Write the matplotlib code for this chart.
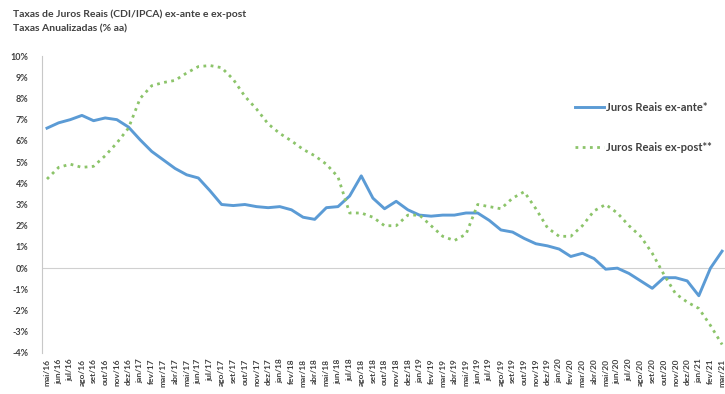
#!/usr/bin/env python3
"""
Juros reais ex-ante e ex-post (CDI/IPCA), mensal
"""

import numpy as np
import matplotlib
matplotlib.use('Agg')
import matplotlib.pyplot as plt

plt.rcParams['font.family'] = ['Lato', 'DejaVu Sans']

meses = ['jan', 'fev', 'mar', 'abr', 'mai', 'jun', 'jul', 'ago', 'set', 'out', 'nov', 'dez']
labels = []
for ano in range(16, 22):
    for m in meses:
        labels.append('{}/{}'.format(m, ano))
labels = labels[4:4 + 59]   # mai/16 .. mar/21

ex_ante = [6.6, 6.85, 7.0, 7.2, 6.95, 7.08, 7.0, 6.65, 6.05, 5.5,
           5.1, 4.7, 4.4, 4.25, 3.65, 3.0, 2.95, 3.0, 2.9, 2.85,
           2.9, 2.75, 2.4, 2.3, 2.85, 2.9, 3.4, 4.35, 3.3, 2.8,
           3.15, 2.75, 2.5, 2.45, 2.5, 2.5, 2.6, 2.6, 2.25, 1.8,
           1.7, 1.4, 1.15, 1.05, 0.9, 0.55, 0.7, 0.45, -0.05, 0.0,
           -0.25, -0.6, -0.95, -0.45, -0.45, -0.6, -1.3, 0.0, 0.8]

ex_post = [4.2, 4.75, 4.9, 4.75, 4.8, 5.3, 5.9, 6.6, 8.0, 8.6,
           8.75, 8.85, 9.2, 9.5, 9.55, 9.45, 8.9, 8.1, 7.5, 6.8,
           6.35, 6.0, 5.6, 5.3, 4.9, 4.3, 2.6, 2.6, 2.4, 2.0,
           2.0, 2.5, 2.5, 2.0, 1.5, 1.3, 1.6, 3.0, 2.9, 2.8,
           3.3, 3.6, 2.8, 1.9, 1.5, 1.5, 2.0, 2.7, 3.0, 2.6,
           2.0, 1.5, 0.7, -0.3, -1.2, -1.6, -1.9, -2.7, -3.6]

x = np.arange(len(labels))
grey = '#404040'

fig = plt.figure(figsize=(7.25, 3.94), dpi=100)
ax = fig.add_axes([42/725, 1 - 353/394, 683/725, (353 - 56)/394])

ax.plot(x, ex_ante, color='#5b9bd5', lw=2.1, label='Juros Reais ex-ante*')
ax.plot(x, ex_post, color='#8cc46a', lw=2.0, ls=(0, (1, 1.6)), label='Juros Reais ex-post**')
ax.axhline(0, color='#d0d0d0', lw=0.8, zorder=0)

ax.set_xlim(-0.43, 58.25)
ax.set_ylim(-4, 10)
ax.set_yticks(range(-4, 11))
ax.set_yticklabels(['{}%'.format(v) for v in range(-4, 11)],
                   fontsize=6.5, fontweight='bold', color=grey)
ax.set_xticks(x)
ax.set_xticklabels(labels, rotation=90, fontsize=6, fontweight='bold', color=grey)
ax.tick_params(axis='y', length=0, pad=10)
ax.tick_params(axis='x', length=0, pad=4)

for s in ['top', 'right', 'bottom']:
    ax.spines[s].set_visible(False)
ax.spines['left'].set_color('#c8c8c8')
ax.spines['left'].set_linewidth(0.8)

ax.legend(loc='upper left', bbox_to_anchor=(565/725, 1 - 92/394),
          bbox_transform=fig.transFigure, frameon=False,
          handlelength=2.6, handletextpad=0.2, labelspacing=2.6,
          labelcolor=grey, prop={'weight': 'bold', 'size': 8})

fig.text(13/725, 1 - 14/394, 'Taxas de Juros Reais (CDI/IPCA) ex-ante e ex-post',
         fontsize=7.5, color=grey, fontweight='bold', va='center')
fig.text(13/725, 1 - 29/394, 'Taxas Anualizadas (% aa)',
         fontsize=7.5, color=grey, fontweight='bold', va='center')

fig.savefig('out.png', dpi=100)
